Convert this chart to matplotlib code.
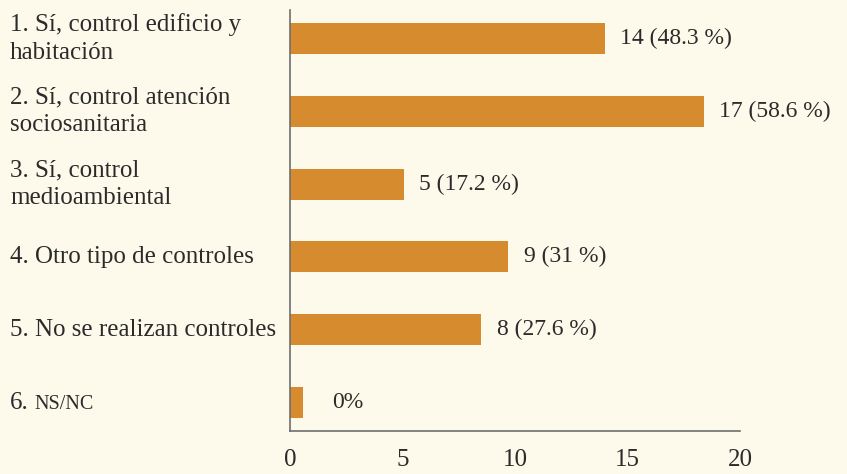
import matplotlib
matplotlib.use("Agg")
import matplotlib.pyplot as plt
import matplotlib.transforms as mtransforms

# Datos
categorias = [
    "1. Sí, control edificio y\nhabitación",
    "2. Sí, control atención\nsociosanitaria",
    "3. Sí, control\nmedioambiental",
    "4. Otro tipo de controles",
    "5. No se realizan controles",
    "6.",
]
longitud_barras = [14.0, 18.4, 5.05, 9.7, 8.5, 0.58]
etiquetas_valor = ["14 (48.3 %)", "17 (58.6 %)", "5 (17.2 %)", "9 (31 %)", "8 (27.6 %)", "0%"]
ticks_x = [0, 5, 10, 15, 20]

FONDO = "#FDF9EB"
NARANJA = "#D68B2E"
TEXTO = "#2b2b2b"
EJE = "#6e6e6e"

plt.rcParams["font.family"] = ["Liberation Serif", "DejaVu Serif"]

fig = plt.figure(figsize=(8.47, 4.74), dpi=100, facecolor=FONDO)
ax = fig.add_axes([290 / 847, 1 - 431 / 474, 450 / 847, 421 / 474])
ax.set_facecolor(FONDO)

y = list(range(len(categorias)))
ax.barh(y, longitud_barras, height=0.425, color=NARANJA, zorder=2)

ax.set_xlim(0, 20)
ax.set_ylim(len(categorias) - 1 + 0.39, -0.39)

for s in ["top", "right"]:
    ax.spines[s].set_visible(False)
for s in ["left", "bottom"]:
    ax.spines[s].set_color(EJE)
    ax.spines[s].set_linewidth(1.2)

ax.set_yticks([])
ax.set_xticks(ticks_x)
ax.set_xticklabels([str(t) for t in ticks_x])
ax.tick_params(axis="x", length=0, pad=13, labelsize=18, labelcolor=TEXTO)

# Etiquetas de valor
for yi, v, lab in zip(y, longitud_barras, etiquetas_valor):
    extra = 10 if lab == "0%" else 0
    ax.annotate(lab, xy=(v, yi), xytext=(11 + extra, 0), textcoords="offset points",
                va="center", ha="left", fontsize=17, color=TEXTO)

# Categorías a la izquierda
trans = mtransforms.blended_transform_factory(fig.transFigure, ax.transData)
ultimo = None
for yi, cat in zip(y, categorias):
    if cat == "6.":
        base = trans + mtransforms.ScaledTranslation(0, -6 / 100, fig.dpi_scale_trans)
        ultimo = fig.text(10 / 847, yi, cat, transform=base, va="baseline", ha="left",
                          fontsize=18, color=TEXTO)
    else:
        fig.text(10 / 847, yi, cat, transform=trans, va="center", ha="left",
                 fontsize=18, color=TEXTO, linespacing=1.32)

# NS/NC en versalitas, misma línea base que "6."
fig.canvas.draw()
bb = ultimo.get_window_extent()
base = mtransforms.blended_transform_factory(fig.transFigure, ax.transData) + \
    mtransforms.ScaledTranslation(0, -6 / 100, fig.dpi_scale_trans)
fig.text((bb.x1 + 6) / 847, 5, "NS/NC", transform=base, va="baseline", ha="left",
         fontsize=14.5, color=TEXTO)

fig.savefig("out.png", dpi=100, facecolor=FONDO)
